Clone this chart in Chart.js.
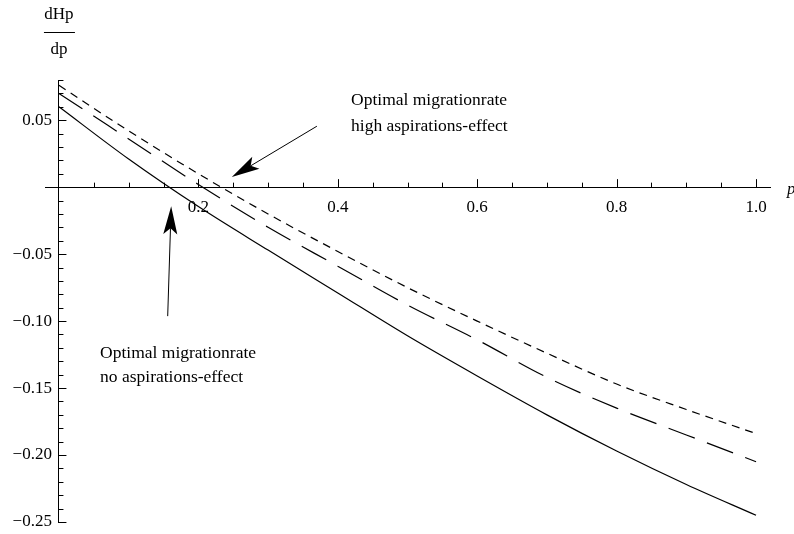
<!DOCTYPE html>
<html lang="en">
<head>
<meta charset="UTF-8">
<title>dHp/dp</title>
<script src="https://cdn.jsdelivr.net/npm/chart.js"></script>
<style>
  html, body { margin: 0; padding: 0; background: #fff; }
  .chart-box { width: 794px; height: 534px; position: relative; }
</style>
</head>
<body>
<div class="chart-box"><canvas id="chart"></canvas></div>
<script>
  // migration rate p and dHp/dp for three aspiration levels
  const pValues = [0, 0.1, 0.2, 0.3, 0.4, 0.5, 0.6, 0.7, 0.8, 0.9, 1.0]
  const noEffect = [0.060, 0.021, -0.0145, -0.047, -0.079, -0.111, -0.141, -0.170, -0.197, -0.222, -0.245]
  const midEffect = [0.070, 0.036, 0.002, -0.030, -0.059, -0.088, -0.114, -0.142, -0.165, -0.185, -0.205]
  const highEffect = [0.076, 0.042, 0.010, -0.020, -0.048, -0.075, -0.100, -0.124, -0.147, -0.166, -0.184]

  const xTickValues = [0.2, 0.4, 0.6, 0.8, 1.0]
  const yTickValues = [0.05, -0.05, -0.10, -0.15, -0.20, -0.25]
  const xMinorStep = 0.05
  const yMinorStep = 0.01

  const notes = [
    { lines: ['Optimal migrationrate', 'high aspirations-effect'], gap: 26, at: [0.419, 0.065], tail: [0.370, 0.0455], tip: [0.248, 0.0075] },
    { lines: ['Optimal migrationrate', 'no aspirations-effect'], gap: 24, at: [0.059, -0.1245], tail: [0.156, -0.0963], tip: [0.161, -0.0142] }
  ]

  const serif = '"Liberation Serif", "DejaVu Serif", serif'
  const toXY = ys => pValues.map((p, i) => ({ x: p, y: ys[i] }))
  const yLabel = v => (v < 0 ? '\u2212' : '') + Math.abs(v).toFixed(2)

  function arrow (ctx, x0, y0, x1, y1) {
    const a = Math.atan2(y1 - y0, x1 - x0)
    const len = 28, half = 7, notch = 22
    ctx.beginPath()
    ctx.moveTo(x0, y0)
    ctx.lineTo(x1 - notch * Math.cos(a), y1 - notch * Math.sin(a))
    ctx.stroke()
    ctx.beginPath()
    ctx.moveTo(x1, y1)
    ctx.lineTo(x1 - len * Math.cos(a) + half * Math.sin(a), y1 - len * Math.sin(a) - half * Math.cos(a))
    ctx.lineTo(x1 - notch * Math.cos(a), y1 - notch * Math.sin(a))
    ctx.lineTo(x1 - len * Math.cos(a) - half * Math.sin(a), y1 - len * Math.sin(a) + half * Math.cos(a))
    ctx.closePath()
    ctx.fill()
  }

  const decorations = {
    id: 'decorations',
    afterDraw (chart) {
      const { ctx, scales: { x, y } } = chart
      const x0 = x.getPixelForValue(0)
      const y0 = y.getPixelForValue(0)
      ctx.save()
      ctx.strokeStyle = '#000'
      ctx.fillStyle = '#000'
      ctx.lineWidth = 1

      // tick marks, major ones longer
      ctx.beginPath()
      for (let i = 1; i * xMinorStep <= 1.0001; i++) {
        const v = i * xMinorStep
        const major = xTickValues.some(t => Math.abs(t - v) < 1e-6)
        const px = Math.round(x.getPixelForValue(v)) + 0.5
        ctx.moveTo(px, y0); ctx.lineTo(px, y0 - (major ? 8 : 4.5))
      }
      for (let i = -25; i <= 8; i++) {
        if (i === 0) continue
        const v = i * yMinorStep
        const major = yTickValues.some(t => Math.abs(t - v) < 1e-6)
        const py = Math.round(y.getPixelForValue(v)) + 0.5
        ctx.moveTo(x0, py); ctx.lineTo(x0 + (major ? 7.5 : 4.5), py)
      }
      ctx.stroke()

      // y tick labels, left of the axis
      ctx.font = '17px ' + serif
      ctx.textAlign = 'right'
      ctx.textBaseline = 'middle'
      yTickValues.forEach(v => ctx.fillText(yLabel(v), x0 - 7, y.getPixelForValue(v)))

      // axis labels
      ctx.textAlign = 'center'
      ctx.fillText('dHp', x0, 15)
      ctx.fillRect(x0 - 15, 32, 31, 1)
      ctx.fillText('dp', x0, 50)
      ctx.font = 'italic 17px ' + serif
      ctx.textAlign = 'left'
      ctx.fillText('p', x.right + 17, y0 + 2)

      // annotations with arrows
      ctx.font = '17.5px ' + serif
      notes.forEach(n => {
        const tx = x.getPixelForValue(n.at[0])
        const ty = y.getPixelForValue(n.at[1])
        n.lines.forEach((line, k) => ctx.fillText(line, tx, ty + k * n.gap))
        arrow(ctx, x.getPixelForValue(n.tail[0]), y.getPixelForValue(n.tail[1]),
          x.getPixelForValue(n.tip[0]), y.getPixelForValue(n.tip[1]))
      })
      ctx.restore()
    }
  }

  const lineStyle = { borderColor: '#000', borderWidth: 1.2, pointRadius: 0, fill: false, cubicInterpolationMode: 'monotone' }

  new Chart(document.getElementById('chart'), {
    type: 'line',
    data: {
      datasets: [
        { label: 'no aspirations-effect', data: toXY(noEffect), ...lineStyle },
        { label: 'medium aspirations-effect', data: toXY(midEffect), ...lineStyle, borderDash: [28, 13] },
        { label: 'high aspirations-effect', data: toXY(highEffect), ...lineStyle, borderDash: [8, 6] }
      ]
    },
    options: {
      responsive: true,
      maintainAspectRatio: false,
      animation: false,
      layout: { padding: { left: 45, right: 24, top: 80, bottom: 12 } },
      plugins: { legend: { display: false }, tooltip: { enabled: false } },
      scales: {
        x: {
          type: 'linear',
          position: { y: 0 },
          min: -0.02,
          max: 1.02,
          grid: { display: false, drawTicks: false },
          border: { display: true, color: '#000', width: 1 },
          afterBuildTicks: s => { s.ticks = xTickValues.map(v => ({ value: v })) },
          ticks: { padding: 10, color: '#000', font: { family: serif, size: 17 }, maxRotation: 0, autoSkip: false, callback: v => v.toFixed(1) }
        },
        y: {
          type: 'linear',
          position: { x: 0 },
          min: -0.25,
          max: 0.08,
          grid: { display: false, drawTicks: false },
          border: { display: true, color: '#000', width: 1 },
          afterBuildTicks: s => { s.ticks = yTickValues.map(v => ({ value: v })) },
          ticks: { display: false }
        }
      }
    },
    plugins: [decorations]
  })
</script>
</body>
</html>
